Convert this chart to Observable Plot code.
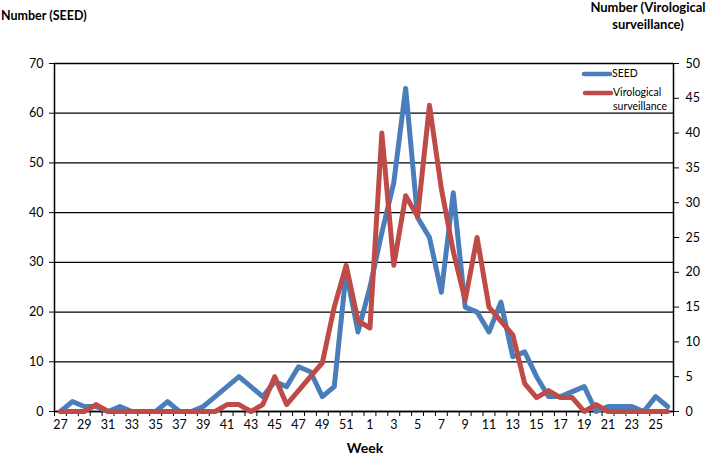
<!DOCTYPE html>
<html><head><meta charset="utf-8">
<script src="https://cdn.jsdelivr.net/npm/d3@7"></script>
<script src="https://cdn.jsdelivr.net/npm/@observablehq/plot@0.6"></script>
<style>body{margin:0;background:#fff} svg{display:block}</style>
</head><body><div id="chart"></div>
<script>
const weeks = [27,28,29,30,31,32,33,34,35,36,37,38,39,40,41,42,43,44,45,46,47,48,49,50,51,52,
  1,2,3,4,5,6,7,8,9,10,11,12,13,14,15,16,17,18,19,20,21,22,23,24,25,26];
const seed = [0,2,1,1,0,1,0,0,0,2,0,0,1,3,5,7,5,3,6,5,9,8,3,5,28,16,
  25,36,46,65,39,35,24,44,21,20,16,22,11,12,7,3,3,4,5,0,1,1,1,0,3,1];
const viro = [0,0,0,1,0,0,0,0,0,0,0,0,0,0,1,1,0,1,5,1,3,5,7,15,21,13,
  12,40,21,31,28,44,32,23,16,25,15,13,11,4,2,3,2,2,0,1,0,0,0,0,0,0];
const leftTicks = [0,10,20,30,40,50,60,70];
const rightTicks = [0,5,10,15,20,25,30,35,40,45,50];
const seriesNames = ["SEED","Virological surveillance"];
const colors = ["#4a7ebb","#be4b48"];
const leftMax = 70, rightMax = 50, k = leftMax / rightMax;

const data = weeks.map((w,i)=>({i, w, seed: seed[i], viro: viro[i]}));
const n = weeks.length;
const font = "Lato, 'Open Sans', sans-serif";

const plot = Plot.plot({
  width: 709, height: 459,
  marginLeft: 54, marginRight: 36, marginTop: 63, marginBottom: 48,
  style: {fontFamily: font, fontSize: "12px", color: "#000", background: "#fff"},
  x: {domain: [-0.5, n - 0.5], axis: null},
  y: {domain: [0, leftMax], axis: null},
  marks: [
    Plot.gridY(leftTicks, {stroke: "#000", strokeOpacity: 1, strokeWidth: 1.3}),
    Plot.axisY(leftTicks, {anchor: "left", tickSize: 5, tickPadding: 6, label: null, fontSize: 12.5}),
    Plot.axisY(rightTicks.map(v => v * k), {anchor: "right", tickSize: 5, tickPadding: 7, label: null, fontSize: 12.5,
      tickFormat: d => String(Math.round(d / k))}),
    Plot.axisX(d3.range(0, n + 1).map(v => v - 0.5), {anchor: "bottom", tickSize: 5, tickFormat: () => "", label: null}),
    Plot.axisX(d3.range(0, n, 2), {anchor: "bottom", tickSize: 0, tickPadding: 9, label: null, fontSize: 12.5,
      tickFormat: i => String(weeks[i])}),
    Plot.ruleX([-0.5, n - 0.5], {stroke: "#000", strokeWidth: 1.5}),
    Plot.ruleY([0], {stroke: "#000", strokeWidth: 1.5}),
    Plot.line(data, {x: "i", y: "seed", stroke: colors[0], strokeWidth: 5, strokeLinejoin: "round"}),
    Plot.line(data, {x: "i", y: d => d.viro * k, stroke: colors[1], strokeWidth: 5, strokeLinejoin: "round"})
  ]
});

const svg = d3.select(plot);
const addText = (x, y, t, opts = {}) => svg.append("text")
  .attr("x", x).attr("y", y).text(t)
  .attr("font-family", font)
  .attr("font-size", opts.size || 13)
  .attr("font-weight", opts.weight || "normal")
  .attr("text-anchor", opts.anchor || "start")
  .attr("dominant-baseline", "middle")
  .attr("fill", "#000");

addText(1, 17, "Number (SEED)", {weight: "bold", size: 12.5});
addText(648, 9, "Number (Virological", {weight: "bold", size: 13, anchor: "middle"});
addText(648, 26, "surveillance)", {weight: "bold", size: 13, anchor: "middle"});
addText(365, 449, "Week", {weight: "bold", size: 14, anchor: "middle"});

// legend
const lg = svg.append("g");
lg.append("line").attr("x1", 584).attr("x2", 610).attr("y1", 74).attr("y2", 74)
  .attr("stroke", colors[0]).attr("stroke-width", 4.5).attr("stroke-linecap", "round");
lg.append("line").attr("x1", 585).attr("x2", 611).attr("y1", 93).attr("y2", 93)
  .attr("stroke", colors[1]).attr("stroke-width", 4.5).attr("stroke-linecap", "round");
addText(612, 74, seriesNames[0], {size: 10.5});
addText(613, 93, "Virological", {size: 10.5});
addText(613, 107, "surveillance", {size: 10.5});

document.getElementById("chart").appendChild(plot);
</script>
</body></html>
